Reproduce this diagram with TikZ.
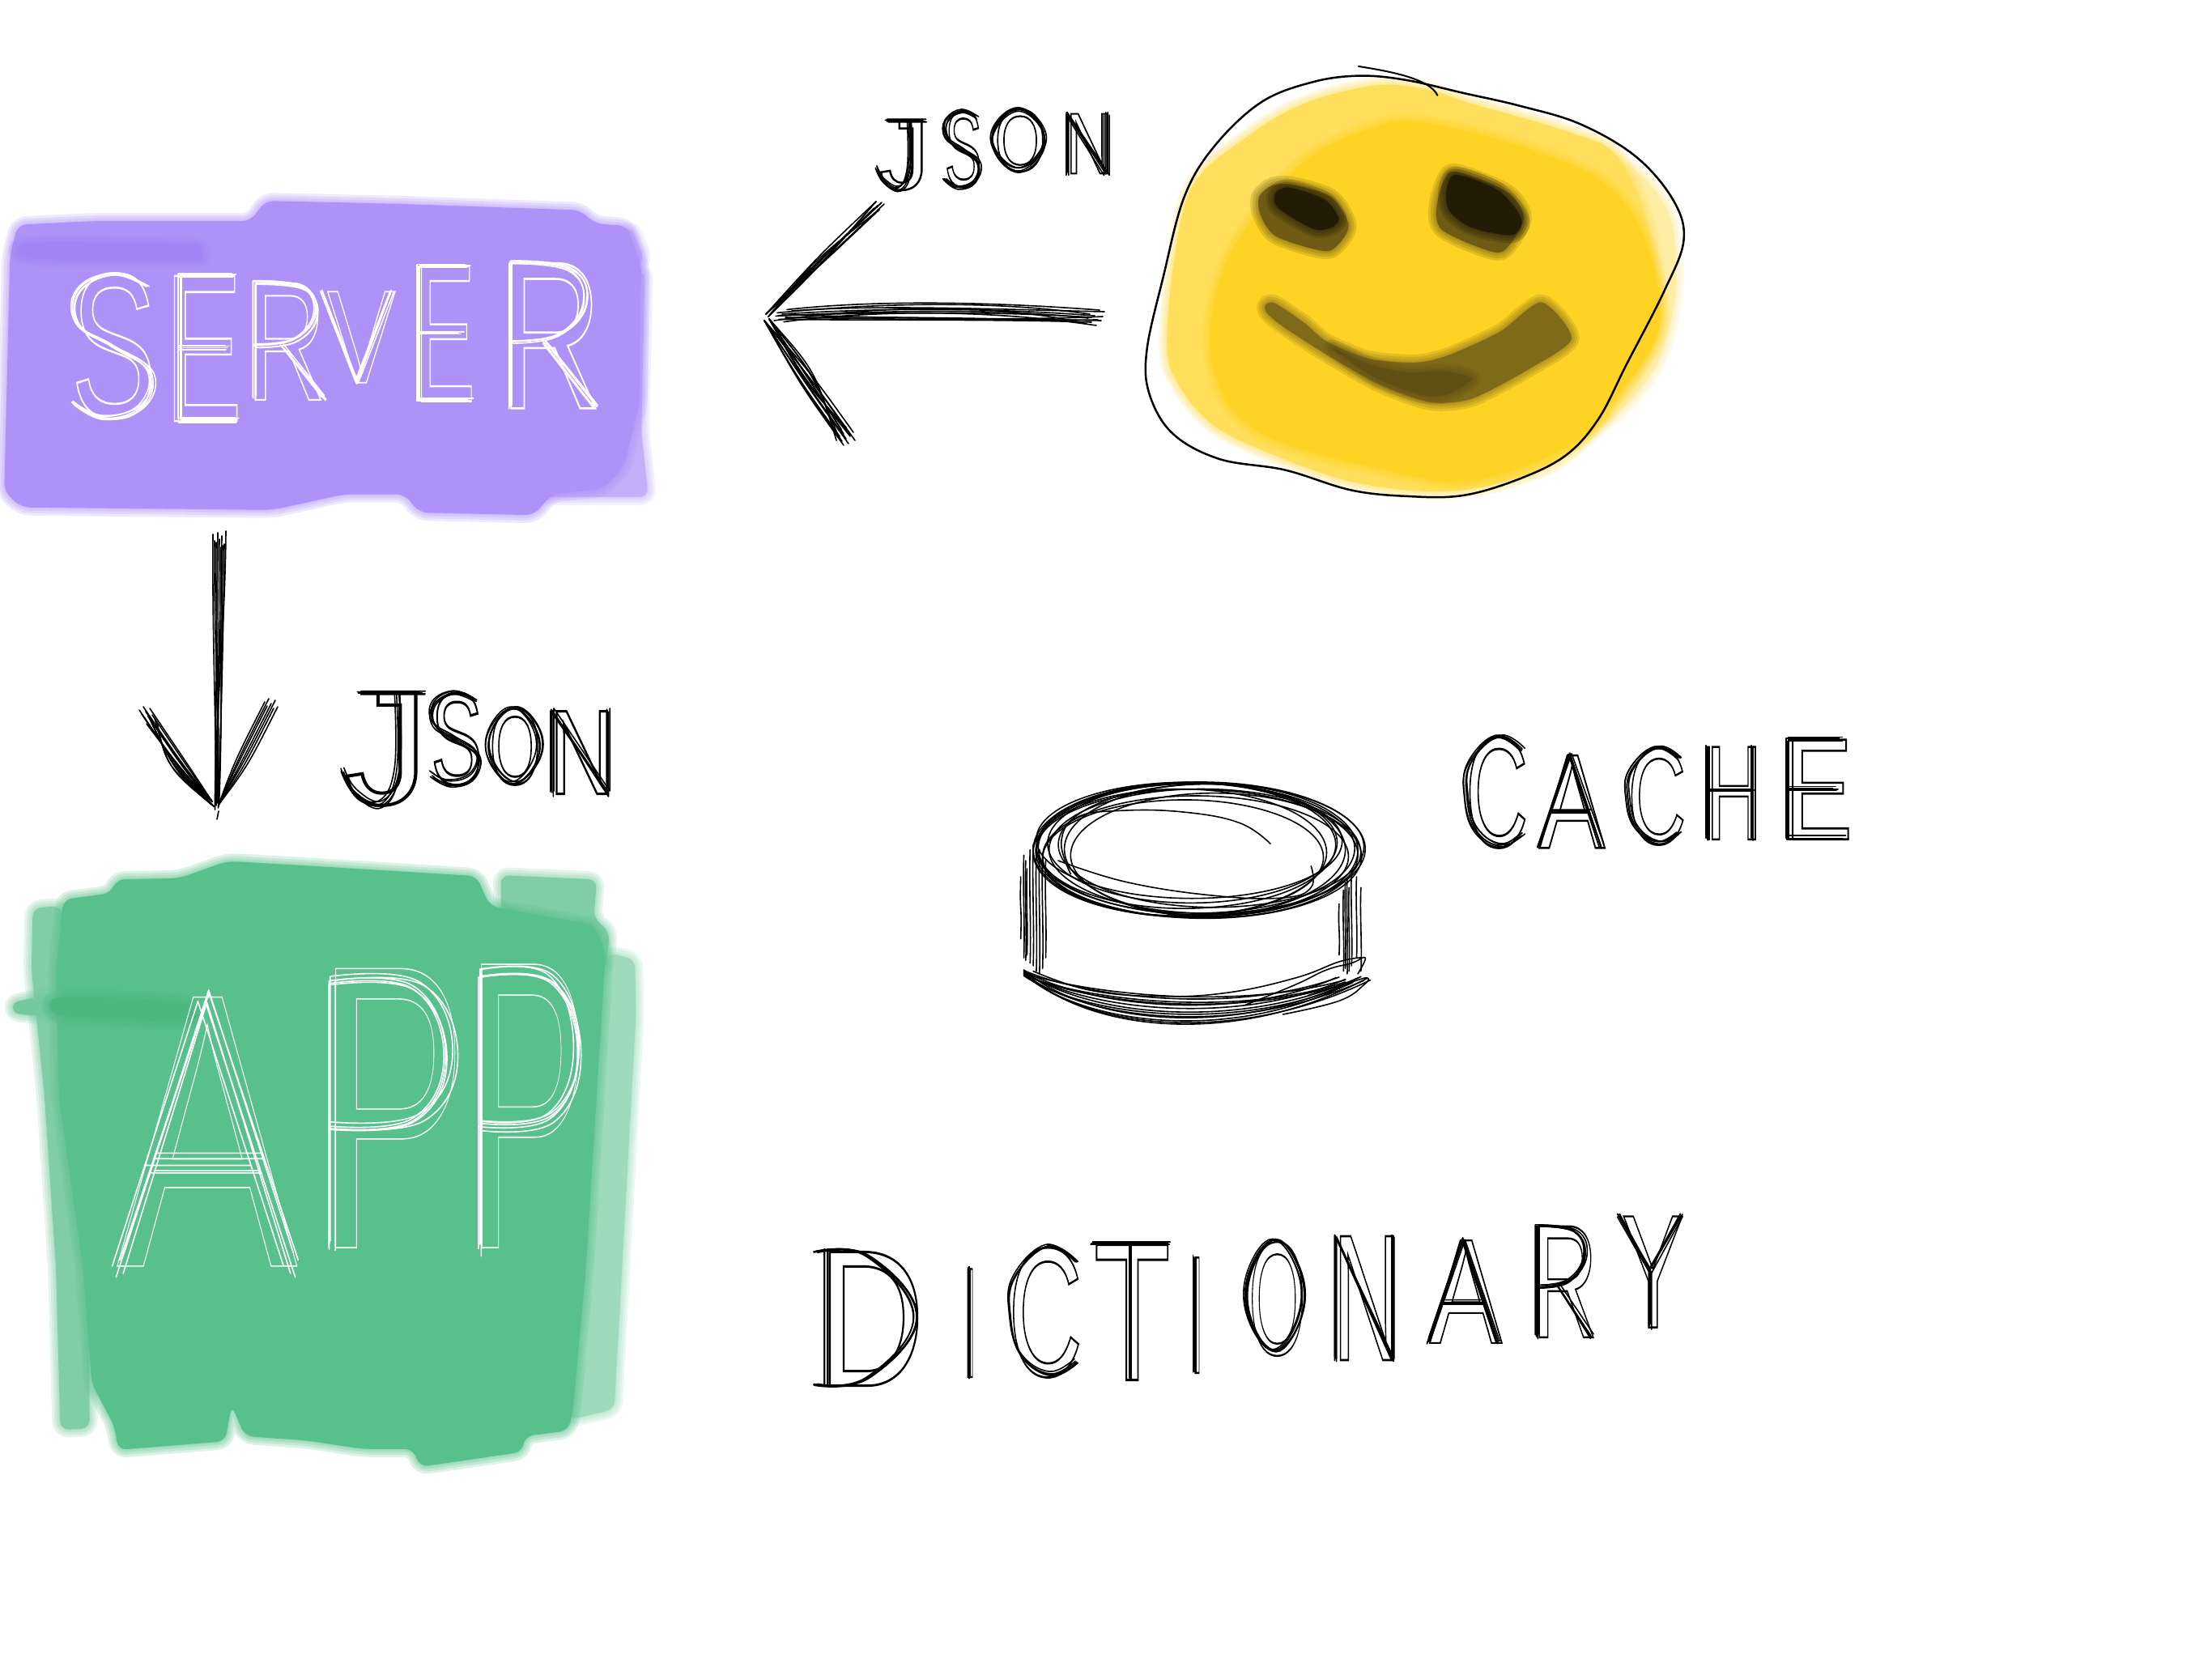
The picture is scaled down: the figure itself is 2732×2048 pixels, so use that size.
\documentclass[tikz,border=0pt]{standalone}
\usepackage{fontspec}
\usepackage{graphicx}
\setmainfont{Liberation Sans}
\usetikzlibrary{calc}
\newdimen\ou \ou=0.017558cm
% letter box in overview units: left, top, right, bottom, rotation, letter
\newcommand\hl[6]{\makebox[0pt][l]{\kern\numexpr#1\relax\ou\raisebox{-\numexpr#4\relax\ou}{\rotatebox[origin=bl]{#5}{\resizebox{\numexpr#3-#1\relax\ou}{\numexpr#4-#2\relax\ou}{#6}}}}}
\newcommand\hollow[1]{\special{pdf:code 1 Tr #1 w}}
\newcommand\softpath[2]{%
  \foreach \w in {20,14,8,3}{\path[draw=#1,line width=\w*0.01cm,opacity=.2,line join=round] #2;}
  \path[fill=#1] #2;}
% pen skeletons of the letters, in a unit box
\def\skS{plot[smooth,tension=.7] coordinates {(.9,.08) (.5,0) (.1,.12) (.1,.35) (.5,.5) (.95,.68) (.85,.92) (.4,1) (.05,.9)}}
\def\skE{(.9,0)--(.1,0)--(.1,1)--(.95,1) (.1,.5)--(.8,.5)}
\def\skR{(.12,1)--(.12,0) plot[smooth,tension=.7] coordinates {(.12,0) (.7,.05) (.85,.28) (.6,.5) (.12,.55)} (.45,.55)--(.95,1)}
\def\skV{(.02,0)--(.5,1)--(.98,0)}
\def\skA{(.02,1)--(.5,0)--(.98,1) (.2,.62)--(.8,.62)}
\def\skP{(.12,1)--(.12,0) plot[smooth,tension=.7] coordinates {(.12,0) (.7,.02) (.92,.28) (.7,.52) (.12,.55)}}
\def\skJ{(.2,0)--(.95,0) plot[smooth,tension=.7] coordinates {(.65,0) (.65,.7) (.45,1) (.15,.9) (0,.7)}}
\def\skO{plot[smooth cycle,tension=.7] coordinates {(.5,0) (.95,.3) (.95,.7) (.5,1) (.05,.7) (.05,.3)}}
\def\skN{(.08,1)--(.08,0)--(.92,1)--(.92,0)}
\def\skC{plot[smooth,tension=.7] coordinates {(.95,.12) (.55,0) (.1,.25) (.05,.55) (.2,.85) (.6,1) (.95,.9)}}
\def\skH{(.08,0)--(.08,1) (.92,0)--(.92,1) (.08,.47)--(.92,.47)}
\def\skD{(.1,0)--(.1,1) plot[smooth,tension=.7] coordinates {(0,.02) (.5,.05) (.95,.5) (.5,.95) (0,1)}}
\def\skI{(.5,0)--(.5,1)}
\def\skT{(0,0)--(1,0) (.5,0)--(.5,1)}
\def\skY{(0,0)--(.5,.5)--(1,0) (.5,.5)--(.5,1)}
\def\scrcol{black}\def\scrjit{3}
% letter, left, top, right, bottom
\newcommand\scr[5]{%
  \foreach \k in {1,2,3,4,5}{%
    \pgfmathsetmacro\jx{(rnd-.5)*2*\scrjit}%
    \pgfmathsetmacro\jy{(rnd-.5)*2*\scrjit}%
    \pgfmathsetmacro\jw{(#4-#2)*1.7558+(rnd-.5)*2*\scrjit}%
    \pgfmathsetmacro\jh{(#5-#3)*1.7558+(rnd-.5)*2*\scrjit}%
    \pgfmathsetmacro\px{#2*1.7558+\jx}%
    \pgfmathsetmacro\py{#3*1.7558+\jy}%
    \draw[pen,draw=\scrcol,shift={(\px,\py)},xscale=\jw,yscale=\jh] \csname sk#1\endcsname;}}
\definecolor{purpleA}{HTML}{AE92F8}
\definecolor{purpleB}{HTML}{C4B0FA}
\definecolor{purpleC}{HTML}{A484F5}
\definecolor{greenA}{HTML}{58C08A}
\definecolor{greenB}{HTML}{80CEA6}
\definecolor{greenC}{HTML}{9DDBBA}
\definecolor{greenD}{HTML}{4DB780}
\definecolor{yelA}{HTML}{FFD324}
\definecolor{yelB}{HTML}{FFDF5C}
\definecolor{yelC}{HTML}{FFEDA6}
\definecolor{eyeA}{HTML}{6E5C14}
\definecolor{eyeB}{HTML}{231B06}
\definecolor{mouthA}{HTML}{7F6A1A}
\definecolor{mouthB}{HTML}{5F4F12}
\tikzset{
  pen/.style={draw=black,line width=0.016cm,line cap=round,line join=round},
  word/.style={anchor=base west,inner sep=0pt,outer sep=0pt},
  zoomA/.style={xscale=.885,yscale=.6427},
  zoomB/.style={shift={(1298,0)},xscale=.578,yscale=.45},
  zoomC/.style={shift={(1199,883)},xscale=.771,yscale=.3333},
  zoomD/.style={shift={(0,1040)},xscale=.54,yscale=.5269}
}
\begin{document}
\begin{tikzpicture}[x=0.01cm,y=-0.01cm]
\pgfmathsetseed{11}
\useasboundingbox (0,0) rectangle (2732,2048);
\fill[white] (0,0) rectangle (2732,2048);
% server swatch
\begin{scope}[zoomA]
\softpath{purpleB}{[rounded corners=3pt] (780,590)--(900,520)--(895,830)--(905,955)--(760,955)--(740,800)--cycle}
\softpath{purpleB}{[rounded corners=3pt] (850,480)--(880,435)--(900,500)--(880,520)--cycle}
\softpath{purpleA}{[rounded corners=3pt] (25,432)--(130,425)--(350,425)--(370,386)--(560,392)--(810,404)--(830,430)--(875,434)--(895,510)--(892,780)--(870,900)--(840,940)--(770,950)--(745,990)--(585,985)--(565,950)--(480,950)--(380,980)--(30,975)--(6,945)--(14,490)--cycle}
\softpath{purpleC}{plot[smooth cycle,tension=.5] coordinates {(35,468) (150,466) (270,470) (282,490) (270,500) (150,500) (35,495)}}
\end{scope}
% app swatch
\begin{scope}[zoomD]
\softpath{greenC}{[rounded corners=3pt] (1390,260)--(1452,275)--(1455,400)--(1405,1330)--(1300,1355)--(1300,800)--cycle}
\softpath{greenB}{[rounded corners=3pt] (75,155)--(140,150)--(200,800)--(205,1375)--(138,1378)--(128,1000)--(102,600)--(72,300)--cycle}
\softpath{greenB}{[rounded corners=3pt] (1145,78)--(1365,88)--(1358,180)--(1395,210)--(1385,300)--(1150,300)--cycle}
\softpath{greenA}{[rounded corners=3pt] (145,135)--(255,120)--(265,88)--(410,85)--(520,45)--(690,55)--(1090,80)--(1120,150)--(1360,195)--(1385,260)--(1340,1000)--(1310,1335)--(1300,1380)--(1200,1393)--(1195,1430)--(960,1465)--(945,1423)--(830,1423)--(700,1403)--(560,1393)--(530,1320)--(515,1405)--(270,1425)--(262,1370)--(210,1270)--(190,1000)--(135,600)--(128,300)--cycle}
\softpath{greenB!70!greenA}{plot[smooth cycle,tension=.5] coordinates {(38,375) (130,362) (130,405) (40,402)}}
\softpath{greenD}{plot[smooth cycle,tension=.5] coordinates {(130,365) (300,368) (420,378) (450,405) (420,422) (280,415) (130,405)}}
\end{scope}
% face
\begin{scope}[zoomB]
\softpath{yelC}{plot[smooth cycle,tension=.6] coordinates {(1200,440) (1310,560) (1335,720) (1325,880) (1280,1030) (1170,1170) (1000,1200) (1000,500)}}
\softpath{yelB}{plot[smooth cycle,tension=.6] coordinates {(690,235) (800,245) (900,285) (1100,360) (1210,430) (1280,640) (1290,900) (1200,1120) (1100,1250) (1000,1310) (880,1345) (760,1345) (620,1315) (450,1235) (345,1165) (275,1060) (248,950) (265,700) (305,505) (420,375) (540,285)}}
\softpath{yelA}{plot[smooth cycle,tension=.6] coordinates {(700,345) (810,340) (1000,400) (1180,500) (1270,660) (1300,900) (1200,1100) (1100,1230) (900,1320) (750,1300) (450,1190) (345,1000) (375,720) (530,455)}}
\softpath{eyeA}{plot[smooth cycle,tension=.5] coordinates {(445,540) (475,508) (520,508) (600,542) (636,620) (605,682) (570,686) (480,648) (448,590)}}
\softpath{eyeB}{plot[smooth cycle,tension=.5] coordinates {(480,530) (510,515) (585,548) (615,600) (598,625) (560,628) (485,570)}}
\softpath{eyeA}{plot[smooth cycle,tension=.5] coordinates {(825,560) (850,475) (900,485) (980,532) (1010,600) (970,686) (930,686) (835,630)}}
\softpath{eyeB}{plot[smooth cycle,tension=.5] coordinates {(845,525) (865,480) (955,522) (1005,600) (985,645) (900,625) (852,580)}}
\softpath{mouthA}{plot[smooth cycle,tension=.45] coordinates {(458,838) (478,832) (540,885) (590,938) (680,985) (780,995) (850,975) (960,910) (1048,830) (1112,930) (1020,1014) (900,1094) (810,1104) (700,1054) (590,974) (500,900) (462,860)}}
\softpath{mouthB}{plot[smooth cycle,tension=.5] coordinates {(600,955) (680,1000) (760,1022) (840,1020) (900,1040) (840,1085) (780,1080) (690,1035)}}
% outline
\draw[pen,line width=0.025cm] plot[smooth cycle,tension=.6] coordinates {(660,208) (560,225) (450,280) (350,400) (285,540) (240,760) (205,960) (210,1080) (260,1190) (360,1260) (500,1290) (640,1345) (760,1362) (880,1360) (1000,1315) (1100,1250) (1170,1150) (1230,1000) (1310,800) (1352,660) (1330,550) (1250,430) (1130,340) (1000,290) (880,255) (760,220)};
\draw[pen,line width=0.02cm] (657,182) .. controls (720,195) and (810,215) .. (826,262);
\end{scope}
% named ends of the arrows
\coordinate (serverS) at (271,666);
\coordinate (appN) at (268,1012);
\coordinate (serverE) at (946,388);
\coordinate (faceEnd) at (1362,392);
% left arrow
\foreach \a/\b/\c in {0/0/-8,6/-8/-4,2/10/4,-4/-6/-14,10/4/6,4/-4/-2,20/-10/-10,12/8/2,-14/6/-18,16/-4/8,-10/12/-12,24/2/-6}{
  \draw[pen] ($(serverE)+(20+\b,\a*.4)$) .. controls ($(serverE)+(140,\c)$) and ($(serverE)+(280,\c+\b*.5)$) .. ($(faceEnd)+(\b-10,\a*.5-2)$);}
\foreach \a/\b in {0/0,5/-4,-4/3,2/5,8/-2,-2/-5}{
  \draw[pen] (serverE) .. controls ($(serverE)+(68+\a,-68+\b)$) .. (1084+\a,254+\b);
  \draw[pen] ($(serverE)+(3,3)$) .. controls ($(serverE)+(62+\a,-62+\b)$) .. (1084-\a,254-\b);}
\foreach \a/\b in {0/0,6/-4,-5/3,3/6,-8/-3,9/-8,-3/8,11/2}{
  \draw[pen] ($(serverE)+(-2,8)$) .. controls ($(serverE)+(46+\a,80+\b)$) .. (1045+\a,542+\b);
  \draw[pen] ($(serverE)+(4,6)$) .. controls ($(serverE)+(52+\a,78+\b)$) .. (1042-\a,536-\b);}
% down arrow
\foreach \a/\b in {0/0,3/-2,-4/2,6/3,-2/-4,-6/1,2/5,-8/-3,8/-5,4/4}{
  \draw[pen] ($(serverS)+(\a,\b*2)$) .. controls ($(serverS)+(\a-1,120)$) and ($(appN)+(\b+2,-120)$) .. ($(appN)+(\b*.5,-20+\a)$);}
\foreach \a/\b in {0/0,5/-4,-5/3,3/6,-8/-2,8/4,-3/-6}{
  \draw[pen] ($(appN)+(-6,-22)$) .. controls ($(appN)+(-40+\a,-62+\b)$) .. (180+\a,879+\b);
  \draw[pen] ($(appN)+(-4,-16)$) .. controls ($(appN)+(-55+\a,-65+\b)$) .. (186-\a,890-\b);
  \draw[pen] ($(appN)+(2,-18)$) .. controls ($(appN)+(30+\a,-70+\b)$) .. (335+\a,869+\b);}
\draw[pen] (appN) -- ($(appN)+(2,-10)$);
% cylinder
\begin{scope}[zoomC]
\foreach \cx/\cy/\rx/\ry/\r in {360/495/255/240/0,350/500/250/250/8,375/505/250/230/-8,345/485/240/232/14,365/515/262/238/-12,385/500/235/245/5,335/510/235/235/12,360/525/245/225/0,385/485/245/228/-7,355/475/232/222/6,370/495/262/246/-4,340/530/225/215/6,390/520/230/230/-14,350/465/245/215/-4}{
  \draw[pen] (\cx,\cy) ellipse [x radius=\rx,y radius=\ry,rotate=\r];}
\draw[pen] plot[smooth,tension=.7] coordinates {(140,540) (250,620) (390,670) (500,678) (545,640) (545,560)};
\draw[pen] plot[smooth,tension=.7] coordinates {(480,478) (430,400) (340,360) (240,355) (170,380) (145,470) (160,590)};
\foreach \x/\t/\b in {85/520/900,95/500/920,105/510/950,115/520/940,120/540/900,90/570/890,80/600/830,100/480/930,110/500/960,88/540/910}{
  \draw[pen] (\x,\t) .. controls (\x-2,\t+150) and (\x+2,\b-150) .. (\x,\b);}
\foreach \x/\t/\b in {597/650/950,603/610/960,610/580/930,618/600/900,625/640/950,590/700/890,600/620/940,606/640/950}{
  \draw[pen] (\x,\t) .. controls (\x-2,\t+100) and (\x+2,\b-100) .. (\x,\b);}
\foreach \a/\b/\c in {0/0/600,8/-25/610,-5/20/620,4/40/630,-8/-45/590,6/60/615,2/-60/600,-4/80/635,10/-35/600,-10/50/625,12/25/612,-6/-15/585,3/70/640}{
  \draw[pen] (85,955+\a) .. controls (180,1090+\b) and (420,1160+\b) .. (\c,980+\a);}
\draw[pen] plot[smooth,tension=.7] coordinates {(100,950) (190,1020) (300,1043) (410,1030) (520,975) (590,915) (625,900)};
\draw[pen] plot[smooth,tension=.7] coordinates {(440,1075) (520,1000) (570,945) (610,920) (632,900) (620,960)};
\draw[pen] plot[smooth,tension=.7] coordinates {(500,1110) (590,1060) (630,1000) (635,975) (610,990) (540,1040)};
\end{scope}
% words
\node[word,text=white] (serverword) at (0,0) {\hollow{.1}%
\hl{49}{192}{109}{293}{0}{S}%
\hl{115}{194}{169}{296}{0}{E}%
\hl{172}{199}{228}{281}{0}{R}%
\hl{229}{205}{277}{269}{0}{V}%
\hl{290}{187}{333}{282}{0}{E}%
\hl{350}{185}{422}{287}{0}{R}};
\begin{scope}\def\scrcol{white}\def\scrjit{3}
\scr{S}{49}{192}{109}{293}\scr{E}{122}{194}{169}{296}\scr{R}{172}{199}{231}{281}\scr{V}{225}{205}{277}{269}\scr{E}{290}{187}{333}{282}\scr{R}{350}{185}{422}{287}
\end{scope}
\node[word,text=white] (appword) at (0,0) {\hollow{.03}%
\hl{81}{701}{208}{890}{0}{A}%
\hl{222}{681}{327}{877}{0}{P}%
\hl{327}{678}{412}{877}{0}{P}};
\begin{scope}\def\scrcol{white}\def\scrjit{8}
\scr{A}{81}{701}{208}{890}\scr{P}{222}{690}{327}{877}\scr{P}{327}{685}{412}{877}
\end{scope}
\begin{scope}[xshift=-14*0.01cm]
\node[word,text=black] (jsonA) at (0,0) {\hollow{.2}%
\hl{625}{85}{660}{133}{0}{J}%
\hl{671}{78}{697}{131}{0}{S}%
\hl{706}{77}{742}{120}{0}{O}%
\hl{756}{80}{789}{122}{0}{N}};
\def\scrjit{2.5}
\scr{J}{625}{85}{660}{133}\scr{S}{671}{78}{697}{131}\scr{O}{706}{77}{742}{120}\scr{N}{756}{80}{789}{122}
\node[word,text=black] (cacheword) at (0,0) {\hollow{.15}%
\hl{1037}{518}{1081}{595}{0}{C}%
\hl{1089}{531}{1135}{596}{0}{A}%
\hl{1151}{526}{1192}{593}{0}{C}%
\hl{1206}{525}{1245}{590}{0}{H}%
\hl{1261}{520}{1309}{590}{0}{E}};
\scr{C}{1037}{518}{1081}{595}\scr{A}{1089}{531}{1135}{596}\scr{C}{1151}{526}{1192}{593}\scr{H}{1206}{525}{1245}{590}\scr{E}{1261}{520}{1309}{590}
\end{scope}
\begin{scope}[xshift=-4*0.01cm]
\def\scrjit{2.5}
\node[word,text=black] (dictword) at (0,0) {\hollow{.12}%
\hl{576}{880}{651}{974}{0}{D}%
\hl{678}{892}{688}{968}{0}{I}%
\hl{710}{877}{762}{967}{0}{C}%
\hl{770}{875}{824}{970}{0}{T}%
\hl{838}{884}{847}{965}{0}{I}%
\hl{879}{873}{919}{952}{0}{O}%
\hl{938}{869}{986}{956}{0}{N}%
\hl{1006}{872}{1057}{944}{0}{A}%
\hl{1078}{862}{1124}{940}{0}{R}%
\hl{1141}{855}{1185}{933}{0}{Y}};
\scr{D}{576}{880}{651}{974}\scr{I}{678}{892}{688}{968}\scr{C}{710}{877}{762}{967}\scr{T}{770}{875}{824}{970}\scr{I}{838}{884}{847}{965}\scr{O}{879}{873}{919}{952}\scr{N}{938}{869}{986}{956}\scr{A}{1006}{872}{1057}{944}\scr{R}{1078}{862}{1124}{940}\scr{Y}{1141}{855}{1185}{933}
\end{scope}
\node[word,text=black] (jsonB) at (0,0) {\hollow{.2}%
\hl{241}{487}{300}{565}{0}{J}%
\hl{302}{487}{338}{551}{0}{S}%
\hl{343}{498}{379}{551}{0}{O}%
\hl{385}{500}{431}{558}{0}{N}};
\def\scrjit{3}
\scr{J}{241}{487}{300}{565}\scr{S}{302}{487}{338}{551}\scr{O}{343}{498}{379}{551}\scr{N}{385}{500}{431}{558}
\end{tikzpicture}
\end{document}
